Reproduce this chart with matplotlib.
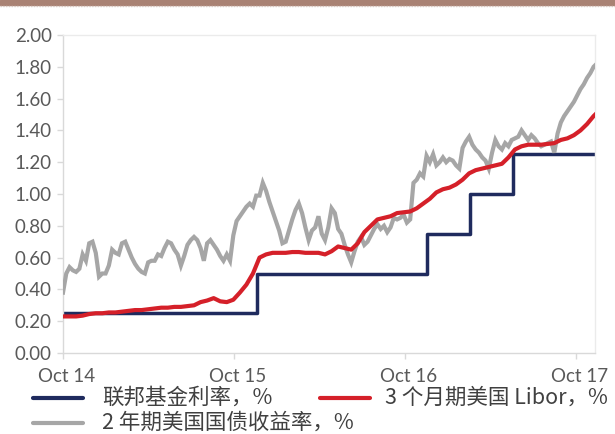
#!/usr/bin/env python3
"""美国利率走势：联邦基金利率 / 3个月 Libor / 2年期国债收益率."""
import numpy as np
import pandas as pd
import matplotlib
matplotlib.use("Agg")
import matplotlib.pyplot as plt
import matplotlib.transforms as mtransforms
from matplotlib.lines import Line2D
from matplotlib.patches import Rectangle

# ---- data ----
# 2年期美国国债收益率, weekly from 2014-10-28
ust2y_start = "2014-10-28"
ust2y = [
    0.38, 0.50, 0.54, 0.52, 0.51, 0.53, 0.62, 0.58, 0.69, 0.70,
    0.63, 0.48, 0.50, 0.50, 0.55, 0.65, 0.63, 0.62, 0.69, 0.70,
    0.65, 0.60, 0.56, 0.53, 0.51, 0.50, 0.57, 0.58, 0.58, 0.62,
    0.61, 0.66, 0.70, 0.69, 0.65, 0.62, 0.55, 0.61, 0.68, 0.71,
    0.73, 0.71, 0.66, 0.58, 0.69, 0.71, 0.68, 0.65, 0.61, 0.58,
    0.62, 0.58, 0.74, 0.83, 0.86, 0.89, 0.92, 0.94, 0.92, 0.99,
    0.99, 1.07, 1.02, 0.95, 0.89, 0.83, 0.77, 0.69, 0.70, 0.77,
    0.84, 0.90, 0.94, 0.88, 0.79, 0.71, 0.77, 0.79, 0.86, 0.75,
    0.71, 0.79, 0.91, 0.88, 0.78, 0.75, 0.68, 0.62, 0.57, 0.64,
    0.70, 0.73, 0.68, 0.70, 0.74, 0.78, 0.81, 0.78, 0.80, 0.76,
    0.79, 0.85, 0.84, 0.85, 0.87, 0.82, 0.84, 1.07, 1.09, 1.13,
    1.11, 1.24, 1.20, 1.25, 1.18, 1.20, 1.23, 1.20, 1.22, 1.21,
    1.18, 1.16, 1.29, 1.33, 1.36, 1.31, 1.28, 1.26, 1.23, 1.21,
    1.16, 1.26, 1.34, 1.30, 1.28, 1.32, 1.30, 1.34, 1.35, 1.36,
    1.40, 1.37, 1.34, 1.37, 1.35, 1.32, 1.30, 1.31, 1.32, 1.33,
    1.26, 1.38, 1.45, 1.49, 1.52, 1.55, 1.58, 1.62, 1.66, 1.69,
    1.73, 1.76, 1.80, 1.82,
]

# 3个月期美国 Libor, every two weeks from 2014-10-28
libor_start = "2014-10-28"
libor = [
    0.23, 0.23, 0.23, 0.235, 0.245, 0.25, 0.25, 0.255, 0.255, 0.26,
    0.265, 0.27, 0.27, 0.275, 0.28, 0.285, 0.285, 0.29, 0.29, 0.295,
    0.30, 0.32, 0.33, 0.345, 0.325, 0.32, 0.335, 0.38, 0.43, 0.50,
    0.60, 0.62, 0.63, 0.63, 0.63, 0.635, 0.635, 0.63, 0.63, 0.63,
    0.62, 0.64, 0.67, 0.66, 0.65, 0.69, 0.76, 0.80, 0.84, 0.85,
    0.86, 0.88, 0.885, 0.89, 0.91, 0.94, 0.97, 1.01, 1.03, 1.04,
    1.06, 1.09, 1.13, 1.15, 1.16, 1.17, 1.18, 1.19, 1.23, 1.28,
    1.30, 1.31, 1.31, 1.31, 1.315, 1.32, 1.34, 1.35, 1.37, 1.40,
    1.44, 1.49, 1.53,
]

# 联邦基金利率 (upper bound), step changes
fed_dates = ["2014-10-28", "2015-12-17", "2016-12-15", "2017-03-16",
             "2017-06-15", "2017-12-08"]
fed_rate = [0.25, 0.50, 0.75, 1.00, 1.25, 1.25]

x_ticks = ["2014-10-28", "2015-10-28", "2016-10-28", "2017-10-28"]
x_labels = ["Oct 14", "Oct 15", "Oct 16", "Oct 17"]
y_ticks = [0.0, 0.2, 0.4, 0.6, 0.8, 1.0, 1.2, 1.4, 1.6, 1.8, 2.0]

labels = ["联邦基金利率，%", "3 个月期美国 Libor，%", "2 年期美国国债收益率，%"]

NAVY = "#1f2b5e"
RED = "#d52029"
GRAY = "#a6a6a6"
TXT = "#595959"
AXC = "#d9d9d9"

W, H = 615, 434


def main():
    fig = plt.figure(figsize=(W / 100, H / 100), dpi=100)
    ax = fig.add_axes([63 / W, 1 - 353 / H, (595 - 63) / W, (353 - 35) / H])

    d_ust = pd.date_range(ust2y_start, periods=len(ust2y), freq="7D")
    d_lib = pd.date_range(libor_start, periods=len(libor), freq="14D")
    d_fed = pd.to_datetime(fed_dates)

    ax.plot(d_fed, fed_rate, drawstyle="steps-post", color=NAVY, lw=2.5,
            solid_capstyle="butt", zorder=2)
    ax.plot(d_ust, ust2y, color=GRAY, lw=3.0, solid_joinstyle="miter", zorder=3)
    ax.plot(d_lib, libor, color=RED, lw=3.0, solid_joinstyle="round", zorder=4)

    ax.set_xlim(pd.Timestamp("2014-10-28"), pd.Timestamp("2017-12-08"))
    ax.set_ylim(0, 2.0)
    ax.set_yticks(y_ticks)
    ax.set_yticklabels([f"{v:.2f}" for v in y_ticks])
    ax.set_xticks(pd.to_datetime(x_ticks))
    ax.set_xticklabels(x_labels)

    for s in ["left", "bottom"]:
        ax.spines[s].set_color(AXC)
    for s in ["top", "right"]:
        ax.spines[s].set_color("#ebebeb")
    for s in ax.spines.values():
        s.set_linewidth(1.0)

    ax.tick_params(axis="y", direction="out", length=4, width=1, color=AXC,
                   pad=4, labelsize=13.5, labelcolor=TXT)
    ax.tick_params(axis="x", direction="out", length=4, width=1, color=AXC,
                   pad=7, labelsize=13.5, labelcolor=TXT)
    shift = mtransforms.ScaledTranslation(4 / 100, 0, fig.dpi_scale_trans)
    for lab in ax.get_xticklabels():
        lab.set_family(["Lato", "DejaVu Sans"])
        lab.set_transform(lab.get_transform() + shift)
    for lab in ax.get_yticklabels():
        lab.set_family(["Lato", "DejaVu Sans"])

    # legend, laid out by hand below the axes
    cjk = ["Noto Sans CJK SC", "DejaVu Sans"]
    items = [(NAVY, 33, 398, 102, labels[0]), (RED, 320, 398, 385, labels[1]),
             (GRAY, 33, 423, 102, labels[2])]
    for col, x0, y0, xt, txt in items:
        fig.add_artist(Line2D([x0 / W, (x0 + 50) / W], [1 - y0 / H, 1 - y0 / H],
                              color=col, lw=3, solid_capstyle="round"))
        fig.text(xt / W, 1 - y0 / H, txt, family=cjk, fontsize=15.5,
                 color="#404040", va="center", ha="left")

    # brown band at the very top
    fig.patches.append(Rectangle((0, 1 - 5 / H), 1, 5 / H, transform=fig.transFigure,
                                 color="#a98274", zorder=0))
    fig.add_artist(Line2D([0, 1], [1 - 6 / H, 1 - 6 / H], color="#d9c9c2",
                          lw=1, ls=(0, (1, 1))))

    fig.savefig("out.png", dpi=100)
    plt.close(fig)


if __name__ == "__main__":
    main()
